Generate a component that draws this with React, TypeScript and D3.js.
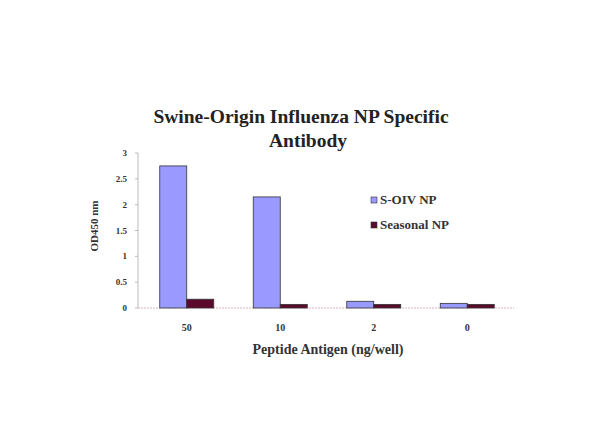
import React from 'react';
import * as d3 from 'd3';

const categories = ['50', '10', '2', '0'];
const soivValues = [2.75, 2.15, 0.13, 0.09];
const seasonalValues = [0.17, 0.07, 0.07, 0.07];
const seriesNames = ['S-OIV NP', 'Seasonal NP'];
const yTicks = [0, 0.5, 1, 1.5, 2, 2.5, 3];

const W = 600;
const H = 447;
const plot = { left: 140, right: 514, top: 153, bottom: 308 };
const font = '"Liberation Serif", "DejaVu Serif", serif';

export default function App() {
  const x = d3.scaleBand<string>().domain(categories).range([plot.left, plot.right]);
  const y = d3.scaleLinear().domain([0, 3]).range([plot.bottom, plot.top]);
  const barW = 27;
  const colors = ['#9999ff', '#5c0a2c'];
  const series = [soivValues, seasonalValues];

  return (
    <svg width={W} height={H} style={{ position: 'absolute', left: 0, top: 0, background: '#fff' }}>
      <rect width={W} height={H} fill="#fff" />
      <text x={301} y={123} textAnchor="middle" fontFamily={font} fontWeight="bold" fontSize={19.5} fill="#222">
        Swine-Origin Influenza NP Specific
      </text>
      <text x={308} y={147} textAnchor="middle" fontFamily={font} fontWeight="bold" fontSize={19.5} fill="#222">
        Antibody
      </text>

      {/* y axis */}
      <line x1={plot.left - 2} x2={plot.left - 2} y1={plot.top} y2={plot.bottom} stroke="#bbb" strokeWidth={1} />
      {yTicks.map(t => (
        <g key={t}>
          <line x1={plot.left - 5} x2={plot.left - 2} y1={y(t)} y2={y(t)} stroke="#bbb" />
          <text x={127} y={y(t) + 3} textAnchor="end" fontFamily={font} fontWeight="bold" fontSize={9} fill="#333">
            {t}
          </text>
        </g>
      ))}
      <text
        transform={`translate(${98},${226}) rotate(-90)`}
        textAnchor="middle"
        fontFamily={font}
        fontWeight="bold"
        fontSize={11}
        fill="#333"
      >
        OD450 nm
      </text>

      {/* baseline */}
      <line x1={plot.left - 2} x2={plot.right} y1={plot.bottom} y2={plot.bottom} stroke="#d9b3bb" strokeDasharray="2,1" />

      {/* bars */}
      {categories.map((c, i) => {
        const cx = (x(c) as number) + x.bandwidth() / 2;
        return series.map((vals, s) => (
          <rect
            key={c + s}
            x={cx - barW + s * barW}
            y={y(vals[i])}
            width={barW}
            height={plot.bottom - y(vals[i])}
            fill={colors[s]}
            stroke="#333"
            strokeWidth={0.8}
          />
        ));
      })}

      {categories.map(c => (
        <text
          key={c}
          x={(x(c) as number) + x.bandwidth() / 2}
          y={331}
          textAnchor="middle"
          fontFamily={font}
          fontWeight="bold"
          fontSize={10}
          fill="#333"
        >
          {c}
        </text>
      ))}
      <text x={328} y={354} textAnchor="middle" fontFamily={font} fontWeight="bold" fontSize={14} fill="#333">
        Peptide Antigen (ng/well)
      </text>

      {/* legend */}
      {seriesNames.map((n, i) => (
        <g key={n} transform={`translate(371,${200 + i * 25})`}>
          <rect x={0} y={-3} width={6} height={6} fill={colors[i]} stroke="#333" strokeWidth={0.6} />
          <text x={9} y={1} fontFamily={font} fontWeight="bold" fontSize={13} fill="#333" dominantBaseline="middle">
            {n}
          </text>
        </g>
      ))}
    </svg>
  );
}
